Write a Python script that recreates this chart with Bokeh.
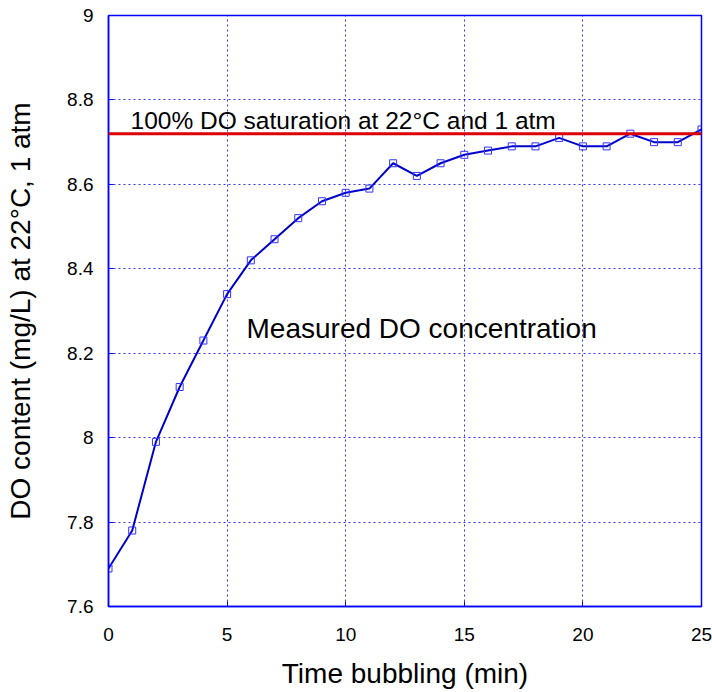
from bokeh.plotting import figure
from bokeh.models import Range1d, Span, Label, FixedTicker, NumeralTickFormatter
from bokeh.embed import file_html
from bokeh.resources import INLINE

# Data
time_min = [0, 1, 2, 3, 4, 5, 6, 7, 8, 9, 10, 11, 12, 13, 14, 15, 16, 17, 18, 19, 20, 21, 22, 23, 24, 25]
do_mgL = [7.69, 7.78, 7.99, 8.12, 8.23, 8.34, 8.42, 8.47, 8.52, 8.56, 8.58, 8.59, 8.65, 8.62, 8.65,
          8.67, 8.68, 8.69, 8.69, 8.71, 8.69, 8.69, 8.72, 8.70, 8.70, 8.73]
saturation_do = 8.72
x_ticks = [0, 5, 10, 15, 20, 25]
y_ticks = [7.6, 7.8, 8.0, 8.2, 8.4, 8.6, 8.8, 9.0]

FONT = "Liberation Sans"
BLUE = "#0000ff"

p = figure(width=712, height=692, output_backend="svg", toolbar_location=None,
           x_range=Range1d(0, 25), y_range=Range1d(7.6, 9.0),
           min_border_left=108, min_border_right=11, min_border_top=15, min_border_bottom=86)

p.outline_line_color = BLUE
p.outline_line_width = 1.5
p.background_fill_color = "white"
p.border_fill_color = "white"

# Axes
for ax in (p.xaxis[0], p.yaxis[0]):
    ax.axis_line_color = BLUE
    ax.axis_line_width = 1.5
    ax.major_tick_line_color = BLUE
    ax.major_tick_in = 5
    ax.major_tick_out = 0
    ax.minor_tick_line_color = None
    ax.major_label_text_font = FONT
    ax.major_label_text_font_size = "19px"
    ax.major_label_text_color = "black"
    ax.axis_label_text_font = FONT
    ax.axis_label_text_font_size = "28px"
    ax.axis_label_text_font_style = "normal"
    ax.axis_label_text_color = "black"

p.xaxis.ticker = FixedTicker(ticks=x_ticks)
p.yaxis.ticker = FixedTicker(ticks=y_ticks)
p.yaxis.formatter = NumeralTickFormatter(format="0.[0]")
p.xaxis.major_label_standoff = 21
p.yaxis.major_label_standoff = 15
p.xaxis.axis_label = "Time bubbling (min)"
p.yaxis.axis_label = "DO content (mg/L) at 22°C, 1 atm"
p.xaxis.axis_label_standoff = 14
p.yaxis.axis_label_standoff = 28

# Grid
for g in (p.xgrid[0], p.ygrid[0]):
    g.grid_line_color = BLUE
    g.grid_line_alpha = 0.8
    g.grid_line_dash = "2 3"
    g.grid_line_width = 1

# Saturation line
p.add_layout(Span(location=saturation_do, dimension="width", line_color="#dd0000", line_width=3))

# Measured data
p.line(time_min, do_mgL, line_color="#0000cc", line_width=2)
p.scatter(time_min, do_mgL, marker="square", size=7, fill_color=None,
          line_color="#3333ff", line_width=1)

# Annotations
p.add_layout(Label(x=0.93, y=8.751, text="100% DO saturation at 22°C and 1 atm",
                   text_font=FONT, text_font_size="24.5px", text_color="black",
                   text_baseline="alphabetic"))
p.add_layout(Label(x=5.82, y=8.258, text="Measured DO concentration",
                   text_font=FONT, text_font_size="28px", text_color="black",
                   text_baseline="alphabetic"))

open("out.html", "w").write(file_html(p, INLINE))
